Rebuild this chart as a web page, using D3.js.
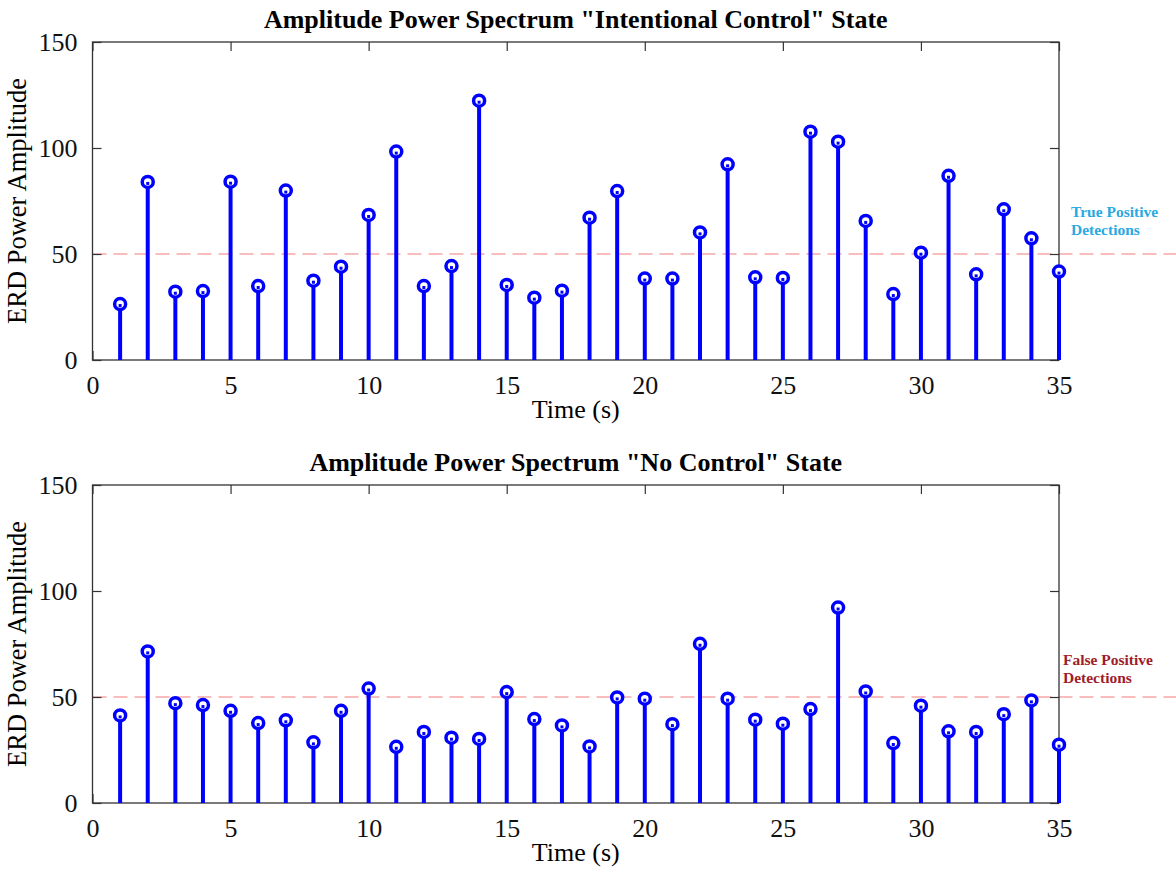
<!DOCTYPE html>
<html>
<head>
<meta charset="utf-8">
<script src="https://cdn.jsdelivr.net/npm/d3@7"></script>
<style>
    body { margin: 0; background: #fff; }
    svg { display: block; font-family: "Liberation Serif", "Times New Roman", serif; }
</style>
</head>
<body>
<svg id="chart" width="1176" height="873"></svg>
<script>
// time axis (s)
const timeSec = d3.range(1, 36);

// ERD power amplitude, "Intentional Control" state
const intentionalControl = [
    26.4, 84.0, 32.2, 32.5, 84.1, 34.9, 79.9, 37.4, 44.0, 68.4,
    98.3, 34.9, 44.3, 122.3, 35.4, 29.4, 32.7, 67.1, 79.7, 38.4,
    38.4, 60.2, 92.3, 39.0, 38.7, 107.7, 103.0, 65.6, 31.1, 50.6,
    86.9, 40.4, 71.1, 57.4, 41.7
];

// ERD power amplitude, "No Control" state
const noControl = [
    41.3, 71.5, 47.1, 46.2, 43.5, 37.7, 39.0, 28.6, 43.5, 54.0,
    26.5, 33.5, 30.8, 30.2, 52.3, 39.6, 36.6, 26.7, 49.8, 49.2,
    37.2, 75.1, 49.2, 39.3, 37.4, 44.3, 92.2, 52.6, 28.3, 45.9,
    33.8, 33.5, 41.9, 48.4, 27.5
];

const xTicks = [0, 5, 10, 15, 20, 25, 30, 35];
const yTicks = [0, 50, 100, 150];
const threshold = 50;

const panels = [
    { title: 'Amplitude Power Spectrum "Intentional Control" State', values: intentionalControl,
      top: 42, note: ["True Positive", "Detections"], noteColor: "#29a9e1", noteX: 1071, noteY: 217 },
    { title: 'Amplitude Power Spectrum "No Control" State', values: noControl,
      top: 485, note: ["False Positive", "Detections"], noteColor: "#9e1c2b", noteX: 1063, noteY: 665 }
];

const svg = d3.select("#chart");
const left = 92.5, right = 1059, plotH = 318;
const serif = '"Liberation Serif", "Times New Roman", serif';

const x = d3.scaleLinear().domain([0, 35]).range([left, right]);

panels.forEach(p => {
    const y = d3.scaleLinear().domain([0, 150]).range([p.top + plotH, p.top]);
    const g = svg.append("g");

    // title
    g.append("text")
        .attr("x", (left + right) / 2)
        .attr("y", p.top - 14)
        .attr("text-anchor", "middle")
        .attr("font-weight", "bold")
        .attr("font-size", 26)
        .text(p.title);

    // threshold line, runs past the axes box
    g.append("line")
        .attr("x1", left).attr("x2", 1176)
        .attr("y1", y(threshold)).attr("y2", y(threshold))
        .attr("stroke", "#f7a8a8")
        .attr("stroke-width", 1.3)
        .attr("stroke-dasharray", "14,7");

    // axes (ticks inside, mirrored on top / right)
    const tickLen = 9;
    const axisStyle = sel => {
        sel.attr("font-family", serif).attr("font-size", 26);
        sel.select(".domain").remove();
        sel.selectAll("line").attr("stroke", "#333").attr("stroke-width", 1.2);
        sel.selectAll("text").attr("fill", "#111");
    };
    g.append("g")
        .attr("transform", `translate(0,${y(0)})`)
        .call(d3.axisBottom(x).tickValues(xTicks).tickSize(-tickLen).tickPadding(tickLen + 7))
        .call(axisStyle);
    g.append("g")
        .attr("transform", `translate(0,${y(150)})`)
        .call(d3.axisTop(x).tickValues(xTicks).tickSize(-tickLen).tickFormat(""))
        .call(axisStyle);
    g.append("g")
        .attr("transform", `translate(${left},0)`)
        .call(d3.axisLeft(y).tickValues(yTicks).tickSize(-tickLen).tickPadding(tickLen + 6))
        .call(axisStyle);
    g.append("g")
        .attr("transform", `translate(${right},0)`)
        .call(d3.axisRight(y).tickValues(yTicks).tickSize(-tickLen).tickFormat(""))
        .call(axisStyle);

    g.append("rect")
        .attr("x", left).attr("y", p.top)
        .attr("width", right - left).attr("height", plotH)
        .attr("fill", "none")
        .attr("stroke", "#333")
        .attr("stroke-width", 1.3);

    // stems
    const pts = timeSec.map((t, i) => ({ t, v: p.values[i] }));
    g.selectAll(".stem").data(pts).join("line")
        .attr("class", "stem")
        .attr("x1", d => x(d.t)).attr("x2", d => x(d.t))
        .attr("y1", y(0)).attr("y2", d => y(d.v))
        .attr("stroke", "#0000ff")
        .attr("stroke-width", 4);

    // open circle markers
    g.selectAll(".marker").data(pts).join("circle")
        .attr("class", "marker")
        .attr("cx", d => x(d.t)).attr("cy", d => y(d.v))
        .attr("r", 5.5)
        .attr("fill", "#fff")
        .attr("stroke", "#0000ff")
        .attr("stroke-width", 3.5);
    g.selectAll(".dot").data(pts).join("rect")
        .attr("class", "dot")
        .attr("x", d => x(d.t) - 1.5).attr("y", d => y(d.v))
        .attr("width", 3).attr("height", 3)
        .attr("fill", "#0000ff");

    // axis labels
    g.append("text")
        .attr("x", (left + right) / 2)
        .attr("y", y(0) + 58)
        .attr("text-anchor", "middle")
        .attr("font-size", 26)
        .text("Time (s)");
    g.append("text")
        .attr("transform", `translate(26,${p.top + plotH / 2}) rotate(-90)`)
        .attr("text-anchor", "middle")
        .attr("font-size", 26.5)
        .text("ERD Power Amplitude");

    // annotation
    g.append("text")
        .attr("x", p.noteX).attr("y", p.noteY)
        .attr("font-weight", "bold")
        .attr("font-size", 15.5)
        .attr("fill", p.noteColor)
        .selectAll("tspan").data(p.note).join("tspan")
        .attr("x", p.noteX)
        .attr("dy", (d, i) => i ? 18 : 0)
        .text(d => d);
});
</script>
</body>
</html>
